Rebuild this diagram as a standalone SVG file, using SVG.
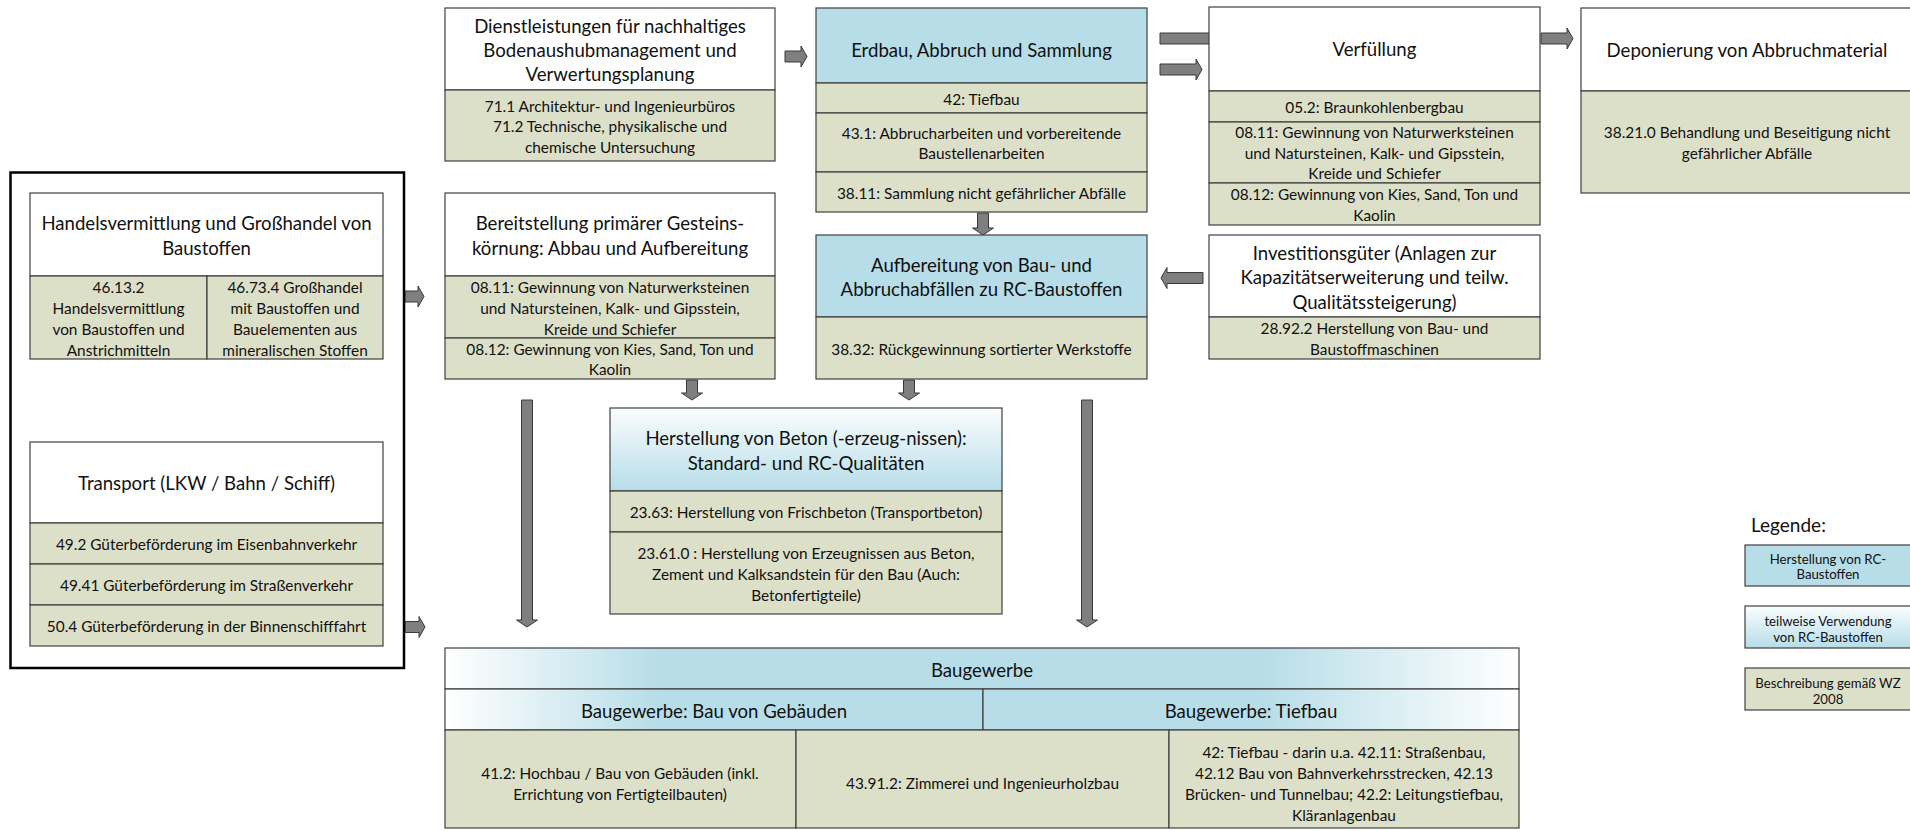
<svg xmlns="http://www.w3.org/2000/svg" width="1910" height="831" viewBox="0 0 1910 831">
<defs>
<style>
.bx{stroke:#404040;stroke-width:1.2}
.w{fill:#ffffff}
.b{fill:#B7DDE8}
.g{fill:#DDE0C9}
.gv{fill:url(#gradV)}
.gh{fill:url(#gradH)}
text{font-family:Lato,"Open Sans",sans-serif;fill:#111;text-anchor:middle;dominant-baseline:central}
.h{font-size:18.6px}
.t{font-size:15.4px}
.l{font-size:13.2px}
.lg{font-size:19px;text-anchor:start}
.arr{fill:#7F7F7F;stroke:#3A3A3A;stroke-width:1}
.outer{fill:none;stroke:#000;stroke-width:2.5}
</style>
<linearGradient id="gradV" x1="0" y1="0" x2="0" y2="1">
<stop offset="0" stop-color="#FAFDFE"/>
<stop offset="1" stop-color="#B7DDE8"/>
</linearGradient>
<linearGradient id="gradH" gradientUnits="userSpaceOnUse" x1="445" y1="0" x2="1519" y2="0">
<stop offset="0" stop-color="#FFFFFF"/>
<stop offset="0.2" stop-color="#B7DDE8"/>
<stop offset="0.76" stop-color="#B7DDE8"/>
<stop offset="1" stop-color="#FFFFFF"/>
</linearGradient>
</defs>

<g id="connectors">
<path class="arr" d="M785,51 H801 V46 L807,56.5 L801,67 V62 H785 Z"/>
<path class="arr" d="M1160,33 H1210 V28 L1216,38.5 L1210,49 V44 H1160 Z"/>
<path class="arr" d="M1160,64 H1196 V59 L1202,69.5 L1196,80 V75 H1160 Z"/>
<path class="arr" d="M1541,33 H1567 V28 L1573,38.5 L1567,49 V44 H1541 Z"/>
<path class="arr" d="M1203,272.5 H1167 V267.5 L1161,278 L1167,288.5 V283.5 H1203 Z"/>
<path class="arr" d="M405,291 H418 V286 L424,296.5 L418,307 V302 H405 Z"/>
<path class="arr" d="M405,621.5 H419 V616.5 L425,627 L419,637.5 V632.5 H405 Z"/>
<path class="arr" d="M977.5,213 V228 H972.5 L983,235 L993.5,228 H988.5 V213 Z"/>
<path class="arr" d="M686.5,380 V393 H681.5 L692,400 L702.5,393 H697.5 V380 Z"/>
<path class="arr" d="M903.5,380 V393 H898.5 L909,400 L919.5,393 H914.5 V380 Z"/>
<path class="arr" d="M521.5,400 V620 H516.5 L527,627 L537.5,620 H532.5 V400 Z"/>
<path class="arr" d="M1081.5,400 V620 H1076.5 L1087,627 L1097.5,620 H1092.5 V400 Z"/>
</g>

<g id="node-dienstleistungen">
<rect class="bx w" x="445" y="8" width="330" height="82"/>
<rect class="bx g" x="445" y="90" width="330" height="71"/>
<text class="h" x="610" y="26">Dienstleistungen für nachhaltiges</text>
<text class="h" x="610" y="50">Bodenaushubmanagement und</text>
<text class="h" x="610" y="74">Verwertungsplanung</text>
<text class="t" x="610" y="106">71.1 Architektur- und Ingenieurbüros</text>
<text class="t" x="610" y="126">71.2 Technische, physikalische und</text>
<text class="t" x="610" y="147">chemische Untersuchung</text>
</g>

<g id="node-erdbau">
<rect class="bx b" x="816" y="8" width="331" height="75"/>
<rect class="bx g" x="816" y="83" width="331" height="30"/>
<rect class="bx g" x="816" y="113" width="331" height="59"/>
<rect class="bx g" x="816" y="172" width="331" height="40"/>
<text class="h" x="981.5" y="50">Erdbau, Abbruch und Sammlung</text>
<text class="t" x="981.5" y="99">42: Tiefbau</text>
<text class="t" x="981.5" y="133">43.1: Abbrucharbeiten und vorbereitende</text>
<text class="t" x="981.5" y="153">Baustellenarbeiten</text>
<text class="t" x="981.5" y="193">38.11: Sammlung nicht gefährlicher Abfälle</text>
</g>

<g id="node-verfuellung">
<rect class="bx w" x="1209" y="7" width="331" height="84"/>
<rect class="bx g" x="1209" y="91" width="331" height="31"/>
<rect class="bx g" x="1209" y="122" width="331" height="61"/>
<rect class="bx g" x="1209" y="183" width="331" height="42"/>
<text class="h" x="1374.5" y="49">Verfüllung</text>
<text class="t" x="1374.5" y="107">05.2: Braunkohlenbergbau</text>
<text class="t" x="1374.5" y="132">08.11: Gewinnung von Naturwerksteinen</text>
<text class="t" x="1374.5" y="153">und Natursteinen, Kalk- und Gipsstein,</text>
<text class="t" x="1374.5" y="173">Kreide und Schiefer</text>
<text class="t" x="1374.5" y="194">08.12: Gewinnung von Kies, Sand, Ton und</text>
<text class="t" x="1374.5" y="215">Kaolin</text>
</g>

<g id="node-deponierung">
<rect class="bx w" x="1581" y="8" width="340" height="83"/>
<rect class="bx g" x="1581" y="91" width="340" height="102"/>
<text class="h" x="1747" y="50">Deponierung von Abbruchmaterial</text>
<text class="t" x="1747" y="132">38.21.0 Behandlung und Beseitigung nicht</text>
<text class="t" x="1747" y="153">gefährlicher Abfälle</text>
</g>

<g id="group-handel-transport">
<rect class="outer" x="10.5" y="172.5" width="393.5" height="495.5"/>
</g>

<g id="node-handel">
<rect class="bx w" x="30" y="193" width="353" height="83"/>
<rect class="bx g" x="30" y="276" width="177" height="83"/>
<rect class="bx g" x="207" y="276" width="176" height="83"/>
<text class="h" x="206.5" y="223">Handelsvermittlung und Großhandel von</text>
<text class="h" x="206.5" y="248">Baustoffen</text>
<text class="t" x="118.5" y="287">46.13.2</text>
<text class="t" x="118.5" y="308">Handelsvermittlung</text>
<text class="t" x="118.5" y="329">von Baustoffen und</text>
<text class="t" x="118.5" y="350">Anstrichmitteln</text>
<text class="t" x="295" y="287">46.73.4 Großhandel</text>
<text class="t" x="295" y="308">mit Baustoffen und</text>
<text class="t" x="295" y="329">Bauelementen aus</text>
<text class="t" x="295" y="350">mineralischen Stoffen</text>
</g>

<g id="node-transport">
<rect class="bx w" x="30" y="442" width="353" height="81"/>
<rect class="bx g" x="30" y="523" width="353" height="41"/>
<rect class="bx g" x="30" y="564" width="353" height="41"/>
<rect class="bx g" x="30" y="605" width="353" height="41"/>
<text class="h" x="206.5" y="483">Transport (LKW / Bahn / Schiff)</text>
<text class="t" x="206.5" y="544">49.2 Güterbeförderung im Eisenbahnverkehr</text>
<text class="t" x="206.5" y="585">49.41 Güterbeförderung im Straßenverkehr</text>
<text class="t" x="206.5" y="626">50.4 Güterbeförderung in der Binnenschifffahrt</text>
</g>

<g id="node-bereitstellung">
<rect class="bx w" x="445" y="193" width="330" height="83"/>
<rect class="bx g" x="445" y="276" width="330" height="62"/>
<rect class="bx g" x="445" y="338" width="330" height="41"/>
<text class="h" x="610" y="223">Bereitstellung primärer Gesteins-</text>
<text class="h" x="610" y="248">körnung: Abbau und Aufbereitung</text>
<text class="t" x="610" y="287">08.11: Gewinnung von Naturwerksteinen</text>
<text class="t" x="610" y="308">und Natursteinen, Kalk- und Gipsstein,</text>
<text class="t" x="610" y="329">Kreide und Schiefer</text>
<text class="t" x="610" y="349">08.12: Gewinnung von Kies, Sand, Ton und</text>
<text class="t" x="610" y="369">Kaolin</text>
</g>

<g id="node-aufbereitung">
<rect class="bx b" x="816" y="235" width="331" height="82"/>
<rect class="bx g" x="816" y="317" width="331" height="62"/>
<text class="h" x="981.5" y="265">Aufbereitung von Bau- und</text>
<text class="h" x="981.5" y="289">Abbruchabfällen zu RC-Baustoffen</text>
<text class="t" x="981.5" y="349">38.32: Rückgewinnung sortierter Werkstoffe</text>
</g>

<g id="node-investition">
<rect class="bx w" x="1209" y="235" width="331" height="82"/>
<rect class="bx g" x="1209" y="317" width="331" height="42"/>
<text class="h" x="1374.5" y="253">Investitionsgüter (Anlagen zur</text>
<text class="h" x="1374.5" y="277">Kapazitätserweiterung und teilw.</text>
<text class="h" x="1374.5" y="302">Qualitätssteigerung)</text>
<text class="t" x="1374.5" y="328">28.92.2 Herstellung von Bau- und</text>
<text class="t" x="1374.5" y="349">Baustoffmaschinen</text>
</g>

<g id="node-beton">
<rect class="bx gv" x="610" y="408" width="392" height="83"/>
<rect class="bx g" x="610" y="491" width="392" height="41"/>
<rect class="bx g" x="610" y="532" width="392" height="82"/>
<text class="h" x="806" y="438">Herstellung von Beton (-erzeug-nissen):</text>
<text class="h" x="806" y="463">Standard- und RC-Qualitäten</text>
<text class="t" x="806" y="512">23.63: Herstellung von Frischbeton (Transportbeton)</text>
<text class="t" x="806" y="553">23.61.0 : Herstellung von Erzeugnissen aus Beton,</text>
<text class="t" x="806" y="574">Zement und Kalksandstein für den Bau (Auch:</text>
<text class="t" x="806" y="595">Betonfertigteile)</text>
</g>

<g id="node-baugewerbe">
<rect class="bx gh" x="445" y="648" width="1074" height="41"/>
<rect class="bx gh" x="445" y="689" width="538" height="41"/>
<rect class="bx gh" x="983" y="689" width="536" height="41"/>
<rect class="bx g" x="445" y="730" width="351" height="98"/>
<rect class="bx g" x="796" y="730" width="373" height="98"/>
<rect class="bx g" x="1169" y="730" width="350" height="98"/>
<text class="h" x="982" y="670">Baugewerbe</text>
<text class="h" x="714" y="711">Baugewerbe: Bau von Gebäuden</text>
<text class="h" x="1251" y="711">Baugewerbe: Tiefbau</text>
<text class="t" x="620" y="773">41.2: Hochbau / Bau von Gebäuden (inkl.</text>
<text class="t" x="620" y="794">Errichtung von Fertigteilbauten)</text>
<text class="t" x="982.5" y="783">43.91.2: Zimmerei und Ingenieurholzbau</text>
<text class="t" x="1344" y="752">42: Tiefbau - darin u.a. 42.11: Straßenbau,</text>
<text class="t" x="1344" y="773">42.12 Bau von Bahnverkehrsstrecken, 42.13</text>
<text class="t" x="1344" y="794">Brücken- und Tunnelbau; 42.2: Leitungstiefbau,</text>
<text class="t" x="1344" y="815">Kläranlagenbau</text>
</g>

<g id="legend">
<text class="lg" x="1751" y="524">Legende:</text>
<rect class="bx b" x="1745" y="545" width="170" height="41"/>
<text class="l" x="1828" y="559">Herstellung von RC-</text>
<text class="l" x="1828" y="574">Baustoffen</text>
<rect class="bx gv" x="1745" y="606" width="170" height="42"/>
<text class="l" x="1828" y="621">teilweise Verwendung</text>
<text class="l" x="1828" y="637">von RC-Baustoffen</text>
<rect class="bx g" x="1745" y="668" width="170" height="42"/>
<text class="l" x="1828" y="683">Beschreibung gemäß WZ</text>
<text class="l" x="1828" y="699">2008</text>
</g>
</svg>
